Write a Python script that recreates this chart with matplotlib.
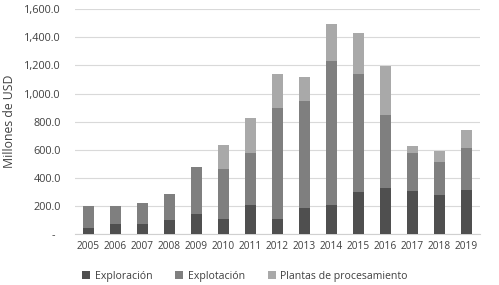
import matplotlib.pyplot as plt
import numpy as np

plt.rcParams['font.family'] = ['Open Sans', 'DejaVu Sans']

years = ['2005', '2006', '2007', '2008', '2009', '2010', '2011', '2012',
         '2013', '2014', '2015', '2016', '2017', '2018', '2019']
exploracion = [43, 71, 76, 99, 147, 109, 207, 109, 189, 208, 300, 329, 308, 279, 312]
explotacion = [157, 129, 149, 187, 329, 357, 373, 790, 760, 1023, 838, 518, 272, 237, 301]
plantas = [0, 0, 0, 0, 0, 171, 246, 239, 166, 265, 294, 348, 50, 76, 128]

yticks = [0, 200, 400, 600, 800, 1000, 1200, 1400, 1600]

fig = plt.figure(figsize=(4.99, 2.85), dpi=100)
ax = fig.add_axes([0.150, 0.178, 0.812, 0.790])

x = np.arange(len(years))
w = 0.41
expl = np.array(exploracion)
explo = np.array(explotacion)
ax.bar(x, expl, w, color='#4f4f4f', label='Exploración', zorder=3)
ax.bar(x, explo, w, bottom=expl, color='#7f7f7f', label='Explotación', zorder=3)
ax.bar(x, plantas, w, bottom=expl + explo, color='#a9a9a9',
       label='Plantas de procesamiento', zorder=3)

ax.set_xlim(-0.5, len(years) - 0.5)
ax.set_ylim(0, 1600)
ax.set_xticks(x)
ax.set_xticklabels(years, fontsize=7.3, color='#404040')
ax.set_yticks(yticks)
ax.set_yticklabels(['-  '] + ['{:,.1f}'.format(v) for v in yticks[1:]],
                   fontsize=7.8, color='#404040')
ax.tick_params(length=0, pad=10)
ax.tick_params(axis='x', pad=5)
ax.yaxis.grid(True, color='#d9d9d9', linewidth=0.8, zorder=0)
for s in ['top', 'right', 'left']:
    ax.spines[s].set_visible(False)
ax.spines['bottom'].set_color('#d0d0d0')
ax.set_ylabel('Millones de USD', fontsize=8.8, color='#404040', labelpad=6)

ax.legend(loc='upper center', bbox_to_anchor=(0.42, -0.12), ncol=3,
          frameon=False, fontsize=7.6, handlelength=0.75, handleheight=0.75,
          handletextpad=0.4, columnspacing=2.2, labelcolor='#404040')

fig.savefig('out.png', dpi=100)
